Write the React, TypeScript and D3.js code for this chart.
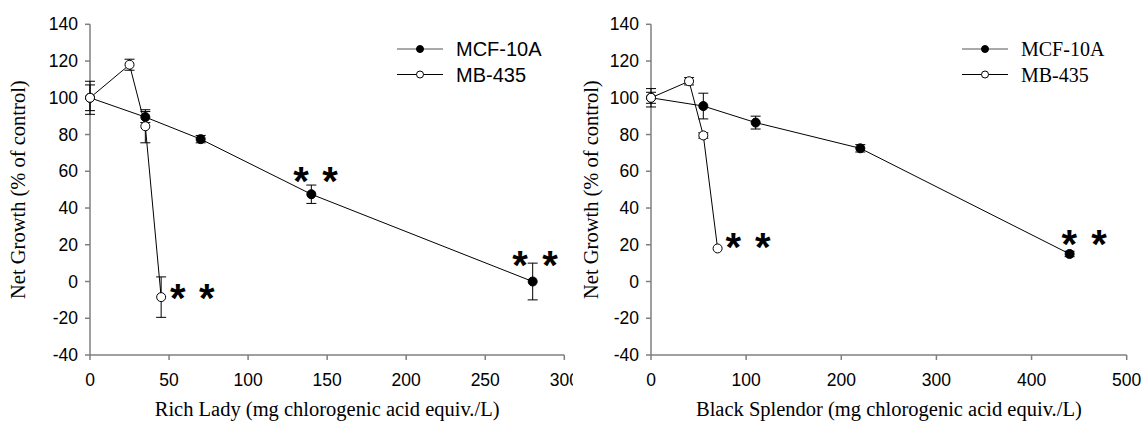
import React from 'react';
import * as d3 from 'd3';

// Rich Lady panel
const richMcfX = [0, 35, 70, 140, 280];
const richMcfY = [100, 89.5, 77.5, 47.5, 0];
const richMcfErr = [9, 3, 2, 5, 10];
const richMbX = [0, 25, 35, 45];
const richMbY = [100, 118, 84.5, -8.5];
const richMbErr = [7, 3, 9, 11];
const richStars = [[55.5, -4.8], [73.9, -4.8], [133.5, 59], [151.9, 59], [272, 13.2], [291, 13.2]];

// Black Splendor panel
const blackMcfX = [0, 55, 110, 220, 440];
const blackMcfY = [100, 95.5, 86.5, 72.5, 15];
const blackMcfErr = [5, 7, 3.5, 2, 1.5];
const blackMbX = [0, 40, 55, 70];
const blackMbY = [100, 109, 79.5, 18];
const blackMbErr = [3, 2, 1.5, 0];
const blackStars = [[86.5, 23], [117.4, 23], [439.7, 24.3], [470.9, 24.3]];

const yTicks = [-40, -20, 0, 20, 40, 60, 80, 100, 120, 140];
const richTicks = [0, 50, 100, 150, 200, 250, 300];
const blackTicks = [0, 100, 200, 300, 400, 500];
const seriesNames = ['MCF-10A', 'MB-435'];

const SANS = '"Liberation Sans", Arial, sans-serif';
const SERIF = '"Liberation Serif", "Times New Roman", serif';
const AXIS = '#7f7f7f';

const zip = (xs, ys, es) => xs.map((x, i) => ({ x, y: ys[i], e: es[i] }));

const Panel = ({ id, x0, x1, xMax, xTicks, xLabel, yLabelX, mcf, mb, stars, legendX, legendFont, clipRight }) => {
    const x = d3.scaleLinear().domain([0, xMax]).range([x0, x1]);
    const y = d3.scaleLinear().domain([-40, 140]).range([355, 24.3]);
    const line = d3.line().x((d) => x(d.x)).y((d) => y(d.y));
    const fs = 40;

    const errBars = (pts) =>
        pts.filter((d) => d.e > 0).map((d, i) => (
            <g key={i} stroke="#000" strokeWidth={1}>
                <line x1={x(d.x)} x2={x(d.x)} y1={y(d.y - d.e)} y2={y(d.y + d.e)} />
                <line x1={x(d.x) - 5} x2={x(d.x) + 5} y1={y(d.y + d.e)} y2={y(d.y + d.e)} />
                <line x1={x(d.x) - 5} x2={x(d.x) + 5} y1={y(d.y - d.e)} y2={y(d.y - d.e)} />
            </g>
        ));

    return (
        <g>
            <defs>
                <clipPath id={id}>
                    <rect x={0} y={0} width={clipRight} height={423} />
                </clipPath>
            </defs>
            {/* axes */}
            <line x1={x0} x2={x0} y1={y(140)} y2={y(-40)} stroke={AXIS} strokeWidth={1.5} />
            <line x1={x0} x2={x1} y1={y(-40)} y2={y(-40)} stroke={AXIS} strokeWidth={1.5} />
            {yTicks.map((t) => (
                <g key={t}>
                    <line x1={x0 - 5} x2={x0} y1={y(t)} y2={y(t)} stroke={AXIS} strokeWidth={1.5} />
                    <text x={x0 - 12} y={y(t)} textAnchor="end" dominantBaseline="central" fontFamily={SANS} fontSize={17.5}>
                        {t}
                    </text>
                </g>
            ))}
            <g clipPath={`url(#${id})`}>
                {xTicks.map((t) => (
                    <g key={t}>
                        <line x1={x(t)} x2={x(t)} y1={y(-40)} y2={y(-40) + 5} stroke={AXIS} strokeWidth={1.5} />
                        <text x={x(t)} y={386} textAnchor="middle" fontFamily={SANS} fontSize={17.5}>
                            {t}
                        </text>
                    </g>
                ))}
            </g>
            <text x={(x0 + x1) / 2} y={416} textAnchor="middle" fontFamily={SERIF} fontSize={20.5}>
                {xLabel}
            </text>
            <text
                transform={`translate(${yLabelX},${(y(140) + y(-40)) / 2}) rotate(-90)`}
                textAnchor="middle"
                fontFamily={SERIF}
                fontSize={20.5}
            >
                Net Growth (% of control)
            </text>

            {/* series */}
            {errBars(mcf)}
            {errBars(mb)}
            <path d={line(mcf)} fill="none" stroke="#000" strokeWidth={1} />
            <path d={line(mb)} fill="none" stroke="#000" strokeWidth={1} />
            {mcf.map((d, i) => (
                <circle key={'a' + i} cx={x(d.x)} cy={y(d.y)} r={4.5} fill="#000" stroke="#000" />
            ))}
            {mb.map((d, i) => (
                <circle key={'b' + i} cx={x(d.x)} cy={y(d.y)} r={4.5} fill="#fff" stroke="#000" strokeWidth={1} />
            ))}

            {/* significance marks */}
            {stars.map(([sx, sy], i) => (
                <text key={i} x={x(sx)} y={y(sy) + fs * 0.54} textAnchor="middle" fontFamily={SANS} fontWeight="bold" fontSize={fs}>
                    *
                </text>
            ))}

            {/* legend */}
            {seriesNames.map((name, i) => {
                const ly = 49 + i * 25.5;
                return (
                    <g key={name}>
                        <line x1={legendX} x2={legendX + 46} y1={ly} y2={ly} stroke={i === 0 ? '#555' : '#000'} strokeWidth={1} />
                        <circle cx={legendX + 23} cy={ly} r={3.5} fill={i === 0 ? '#000' : '#fff'} stroke="#000" />
                        <text x={legendX + 59} y={ly} dominantBaseline="central" fontFamily={legendFont} fontSize={20}>
                            {name}
                        </text>
                    </g>
                );
            })}
        </g>
    );
};

export default function App() {
    return (
        <svg
            width={1144}
            height={423}
            style={{ position: 'absolute', left: 0, top: 0, background: '#fff' }}
        >
            <Panel
                id="clipL"
                x0={90}
                x1={564.3}
                xMax={300}
                xTicks={richTicks}
                xLabel="Rich Lady (mg chlorogenic acid equiv./L)"
                yLabelX={25}
                mcf={zip(richMcfX, richMcfY, richMcfErr)}
                mb={zip(richMbX, richMbY, richMbErr)}
                stars={richStars}
                legendX={397}
                legendFont={SANS}
                clipRight={573}
            />
            <Panel
                id="clipR"
                x0={651}
                x1={1126.7}
                xMax={500}
                xTicks={blackTicks}
                xLabel="Black Splendor (mg chlorogenic acid equiv./L)"
                yLabelX={598}
                mcf={zip(blackMcfX, blackMcfY, blackMcfErr)}
                mb={zip(blackMbX, blackMbY, blackMbErr)}
                stars={blackStars}
                legendX={962}
                legendFont={SERIF}
                clipRight={1144}
            />
        </svg>
    );
}
